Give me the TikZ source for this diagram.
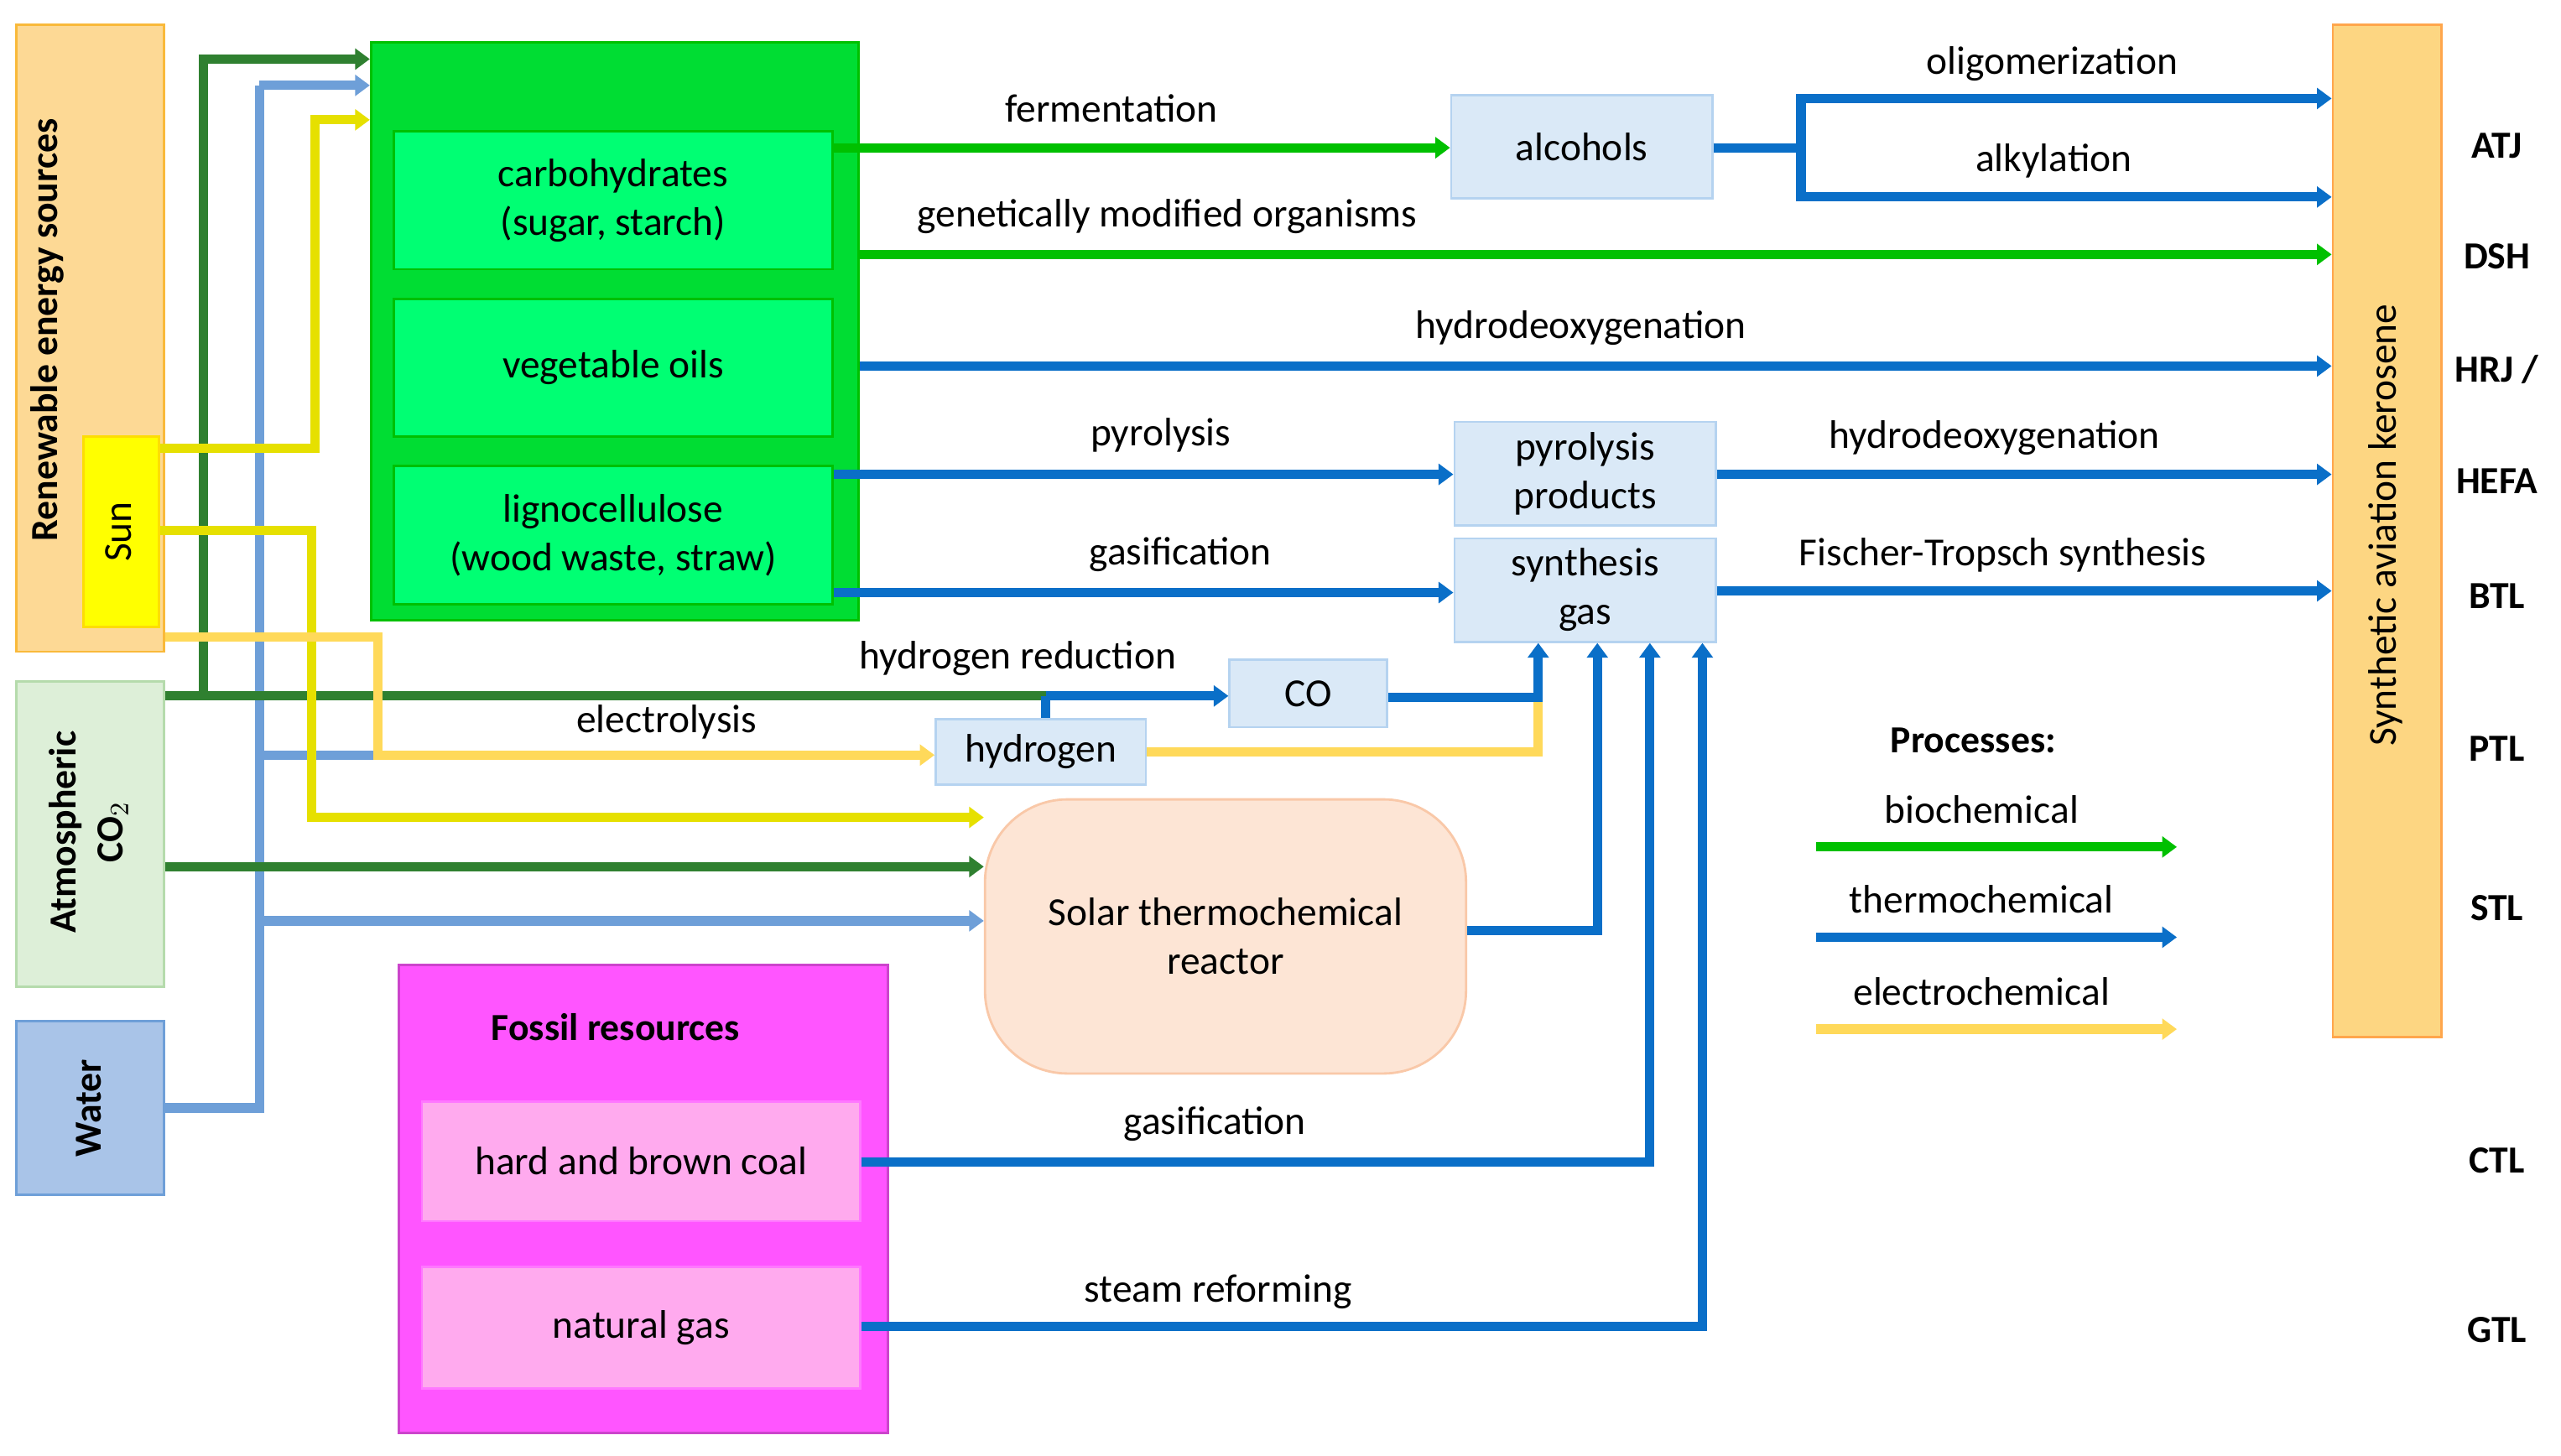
\documentclass[tikz,border=0pt]{standalone}
\usepackage{fontspec}
\setmainfont{Carlito}
\usetikzlibrary{arrows.meta,calc}
\definecolor{renew}{HTML}{FDD995}
\definecolor{renewb}{HTML}{F9B93A}
\definecolor{sunc}{HTML}{FFFF00}
\definecolor{co2c}{HTML}{DDEFD8}
\definecolor{co2b}{HTML}{B5DBAC}
\definecolor{waterc}{HTML}{A9C4E8}
\definecolor{bigg}{HTML}{00DD33}
\definecolor{subg}{HTML}{00FF73}
\definecolor{procc}{HTML}{DAE9F7}
\definecolor{procb}{HTML}{B5D3F0}
\definecolor{solarc}{HTML}{FDE5D5}
\definecolor{solarb}{HTML}{F9C8A8}
\definecolor{fossc}{HTML}{FF55FF}
\definecolor{fosssub}{HTML}{FFAAEE}
\definecolor{kero}{HTML}{FDD682}
\definecolor{biol}{HTML}{00C000}
\definecolor{therm}{HTML}{0A6FC8}
\definecolor{elec}{HTML}{FFD95A}
\definecolor{dgreen}{HTML}{2F8030}
\definecolor{lblue}{HTML}{6E9FD8}
\definecolor{yell}{HTML}{E6E000}
% box from corner values (x1,y1,x2,y2)
\newcommand{\pxbox}[7]{\node[#6,minimum width={(#4-#2)*0.1957mm},minimum height={(#5-#3)*0.1957mm}] (#1) at ({(#2+#4)/2},{(#3+#5)/2}) {#7};}
\begin{document}
\begin{tikzpicture}[x=0.1957mm,y=-0.1957mm,font=\fontsize{13.5}{16.5}\selectfont,
    box/.style={draw,inner sep=0pt,align=center,line width=0.8pt},
    flow/.style={line width=3.2pt,-{Triangle[length=5pt,width=7pt]}},
    line/.style={line width=3.2pt},
    lab/.style={inner sep=1pt},
    bold/.style={font=\fontsize{13}{16}\selectfont\bfseries}]
  \useasboundingbox (0,0) rectangle (1560,886.6);
  % sources
  \pxbox{renew}{10}{15}{100}{397}{box,draw=renewb,fill=renew}{}
  \node[rotate=90,bold] (renewt) at (29,201) {Renewable energy sources};
  \pxbox{sun}{51}{266}{97}{382}{box,draw=yellow!80!orange,fill=sunc}{}
  \node[rotate=90] (sunt) at (72,324) {Sun};
  \pxbox{co2}{10}{415}{100}{601}{box,draw=co2b,fill=co2c}{}
  \node[rotate=90,align=center,bold] (co2t) at (54,507) {Atmospheric\\CO$_2$};
  \pxbox{water}{10}{622}{100}{728}{box,draw=lblue,fill=waterc}{}
  \node[rotate=90,bold] (watert) at (54,675) {Water};
  % biomass
  \pxbox{bio}{226}{26}{523}{378}{box,draw=biol,fill=bigg}{}
  \pxbox{carb}{240}{80}{507}{164}{box,draw=biol,fill=subg}{carbohydrates\\(sugar, starch)}
  \pxbox{veg}{240}{182}{507}{266}{box,draw=biol,fill=subg}{vegetable oils}
  \pxbox{ligno}{240}{284}{507}{368}{box,draw=biol,fill=subg}{lignocellulose\\(wood waste, straw)}
  % intermediates
  \pxbox{alc}{884}{58}{1043}{121}{box,draw=procb,fill=procc}{alcohols}
  \pxbox{pyro}{886}{257}{1045}{320}{box,draw=procb,fill=procc}{pyrolysis\\products}
  \pxbox{syn}{886}{328}{1045}{391}{box,draw=procb,fill=procc}{synthesis\\gas}
  \pxbox{co}{749}{402}{845}{443}{box,draw=procb,fill=procc}{CO}
  \pxbox{hyd}{570}{438}{698}{478}{box,draw=procb,fill=procc}{hydrogen}
  \node[box,draw=solarb,fill=solarc,rounded corners=28pt,minimum width={293*0.1957mm},minimum height={167*0.1957mm}] (solar) at (746.5,570.5) {Solar thermochemical\\reactor};
  % fossil
  \pxbox{foss}{243}{588}{541}{873}{box,draw=fossc!80!black,fill=fossc}{}
  \node[bold] (fosst) at (375,626) {Fossil resources};
  \pxbox{coal}{257}{671}{524}{744}{box,draw=fossc!80!white,fill=fosssub}{hard and brown coal}
  \pxbox{gas}{257}{772}{524}{846}{box,draw=fossc!80!white,fill=fosssub}{natural gas}
  % product
  \pxbox{ker}{1421}{15}{1487}{632}{box,draw=orange!70,fill=kero}{}
  \node[rotate=90] (kert) at (1453,320) {Synthetic aviation kerosene};
  \foreach \t/\y in {ATJ/89,DSH/156,{HRJ /}/225,HEFA/293,BTL/363,PTL/456,STL/553,CTL/707,GTL/810}
    \node[bold] (r\y) at (1521,\y) {\t};
  % feed lines from sources
  \draw[line,lblue] (water.east |- 0,675) -| (158,52) coordinate (wtop);
  \draw[flow,lblue] (wtop) -- (bio.west |- 0,52);
  \draw[line,lblue] (158,460) -- (230,460);
  \draw[flow,lblue] (158,561) -- (solar.west |- 0,561);
  \draw[line,dgreen] (co2.east |- 0,424) -- (637,424) coordinate (cojoin);
  \draw[flow,dgreen] (124,424) |- (bio.west |- 0,36);
  \draw[flow,dgreen] (co2.east |- 0,528) -- (solar.west |- 0,528);
  \draw[flow,yell] (sun.east |- 0,273) -| (192,73) -- (bio.west |- 0,73);
  \draw[flow,yell] (sun.east |- 0,323) -| (190,498) -- (solar.west |- 0,498);
  \draw[flow,elec] (renew.east |- 0,388) -| (230,460) -- (hyd.west |- 0,460);
  \node[lab] (electl) at (406,440) {electrolysis};
  % hydrogen reduction
  \draw[flow,therm] (cojoin) -- (co.west |- 0,424);
  \draw[line,therm] (hyd.north -| 637,0) -- (cojoin);
  \node[lab] (hredl) at (620,401) {hydrogen reduction};
  \draw[line,elec] (hyd.east |- 0,458) -| (937,425);
  \draw[flow,therm] (co.east |- 0,425) -| (syn.south -| 937,0);
  \draw[flow,therm] (solar.east |- 0,567) -| (syn.south -| 973,0);
  \draw[flow,therm] (coal.east |- 0,708) -| (syn.south -| 1005,0);
  \node[lab] (gasl2) at (740,685) {gasification};
  \draw[flow,therm] (gas.east |- 0,808) -| (syn.south -| 1037,0);
  \node[lab] (steaml) at (742,787) {steam reforming};
  % biomass routes
  \draw[flow,biol] (carb.east |- 0,90) -- (alc.west |- 0,90);
  \node[lab] (ferml) at (677,66) {fermentation};
  \draw[flow,biol] (bio.east |- 0,155) -- (ker.west |- 0,155);
  \node[lab] (gmol) at (711,132) {genetically modified organisms};
  \draw[flow,therm] (bio.east |- 0,223) -- (ker.west |- 0,223);
  \node[lab] (hdo1) at (963,200) {hydrodeoxygenation};
  \draw[flow,therm] (ligno.east |- 0,289) -- (pyro.west |- 0,289);
  \node[lab] (pyrl) at (707,265) {pyrolysis};
  \draw[flow,therm] (ligno.east |- 0,361) -- (syn.west |- 0,361);
  \node[lab] (gasl1) at (719,338) {gasification};
  % upgrading
  \draw[line,therm] (alc.east |- 0,90) -- (1097,90);
  \draw[flow,therm] (1097,90) |- (ker.west |- 0,60);
  \draw[flow,therm] (1097,90) |- (ker.west |- 0,120);
  \node[lab] (oligl) at (1250,39) {oligomerization};
  \node[lab] (alkl) at (1251,98) {alkylation};
  \draw[flow,therm] (pyro.east |- 0,289) -- (ker.west |- 0,289);
  \node[lab] (hdo2) at (1215,267) {hydrodeoxygenation};
  \draw[flow,therm] (syn.east |- 0,360) -- (ker.west |- 0,360);
  \node[lab] (ftl) at (1220,338) {Fischer-Tropsch synthesis};
  % legend
  \node[bold] (legt) at (1202,451) {Processes:};
  \foreach \n/\c/\y in {biochemical/biol/493,thermochemical/therm/548,electrochemical/elec/604}{
    \node[lab] (leg\n) at (1207,\y) {\n};
    \draw[flow,\c] (1106,\y+23) -- (1326,\y+23);
  }
\end{tikzpicture}
\end{document}
